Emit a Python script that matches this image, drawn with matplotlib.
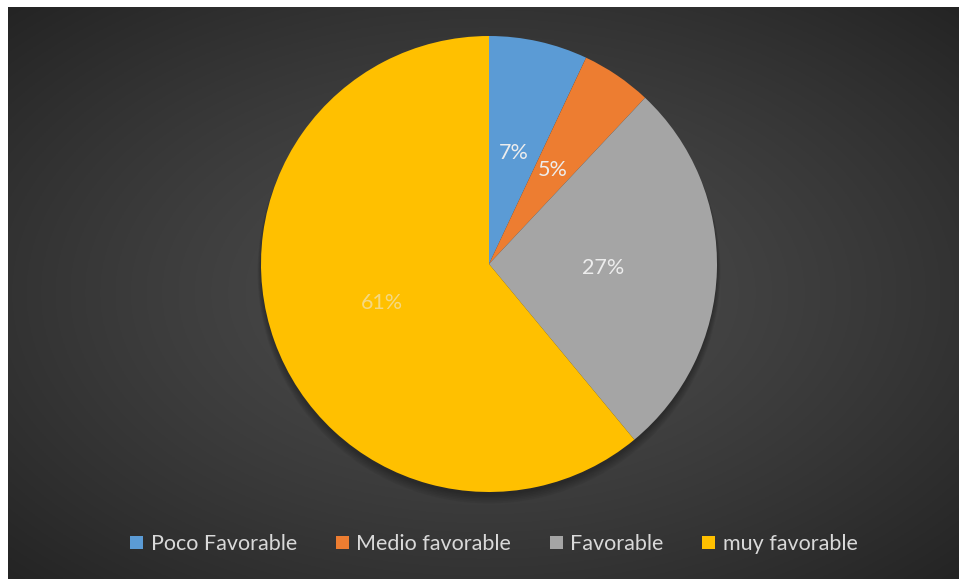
import numpy as np
import matplotlib.pyplot as plt
from matplotlib.patches import Patch, Circle

labels = ['Poco Favorable', 'Medio favorable', 'Favorable', 'muy favorable']
values = [7, 5, 27, 61]
colors = ['#5B9BD5', '#ED7D31', '#A5A5A5', '#FFC000']

W, H = 959, 579
fig = plt.figure(figsize=(W / 100, H / 100), dpi=100)
fig.patch.set_facecolor('white')

# dark panel with a soft radial glow in the middle
bg = fig.add_axes([8 / W, 0, (W - 8) / W, (H - 7) / H])
bg.set_axis_off()
yy, xx = np.mgrid[0:1:300j, 0:1:500j]
d = np.sqrt(((xx - 0.5) / 0.75) ** 2 + ((yy - 0.5) / 0.75) ** 2)
shade = 0.30 - 0.16 * np.clip(d / 0.95, 0, 1) ** 1.3
bg.imshow(np.dstack([shade] * 3), extent=[0, 1, 0, 1], aspect='auto', origin='lower')
bg.set_xlim(0, 1)
bg.set_ylim(0, 1)

# pie axes placed so the pie sits at (489, 264) px with radius 228 px
cx, cy, r, half = 489, 264, 228, 240
ax = fig.add_axes([(cx - half) / W, 1 - (cy + half) / H, 2 * half / W, 2 * half / H])

# faint shadow below the pie
for k in range(6):
    ax.add_patch(Circle((0, -0.015 - 0.004 * k), 1.0 + 0.003 * k, color='black',
                        alpha=0.05, lw=0, zorder=0))

wedges, texts, autotexts = ax.pie(
    values, colors=colors, startangle=90, counterclock=False, radius=1,
    autopct='%1.0f%%', pctdistance=0.5,
    wedgeprops=dict(linewidth=0),
    textprops=dict(color='#EDEDED', fontsize=15.5, family='Lato'))
for w in wedges:
    w.set_zorder(2)
autotexts[3].set_alpha(0.55)

ax.set_axis_off()
lim = half / r
ax.set_xlim(-lim, lim)
ax.set_ylim(-lim, lim)
ax.set_aspect('equal')

handles = [Patch(facecolor=c, edgecolor='none') for c in colors]
fig.legend(handles, labels, loc='center', bbox_to_anchor=(494 / W, 1 - 544 / H),
           ncol=4, frameon=False, handlelength=0.6, handleheight=0.6,
           handletextpad=0.35, columnspacing=1.8,
           prop=dict(family='Lato', size=15.5), labelcolor='#D9D9D9')

fig.savefig('out.png', dpi=100, facecolor=fig.get_facecolor())
